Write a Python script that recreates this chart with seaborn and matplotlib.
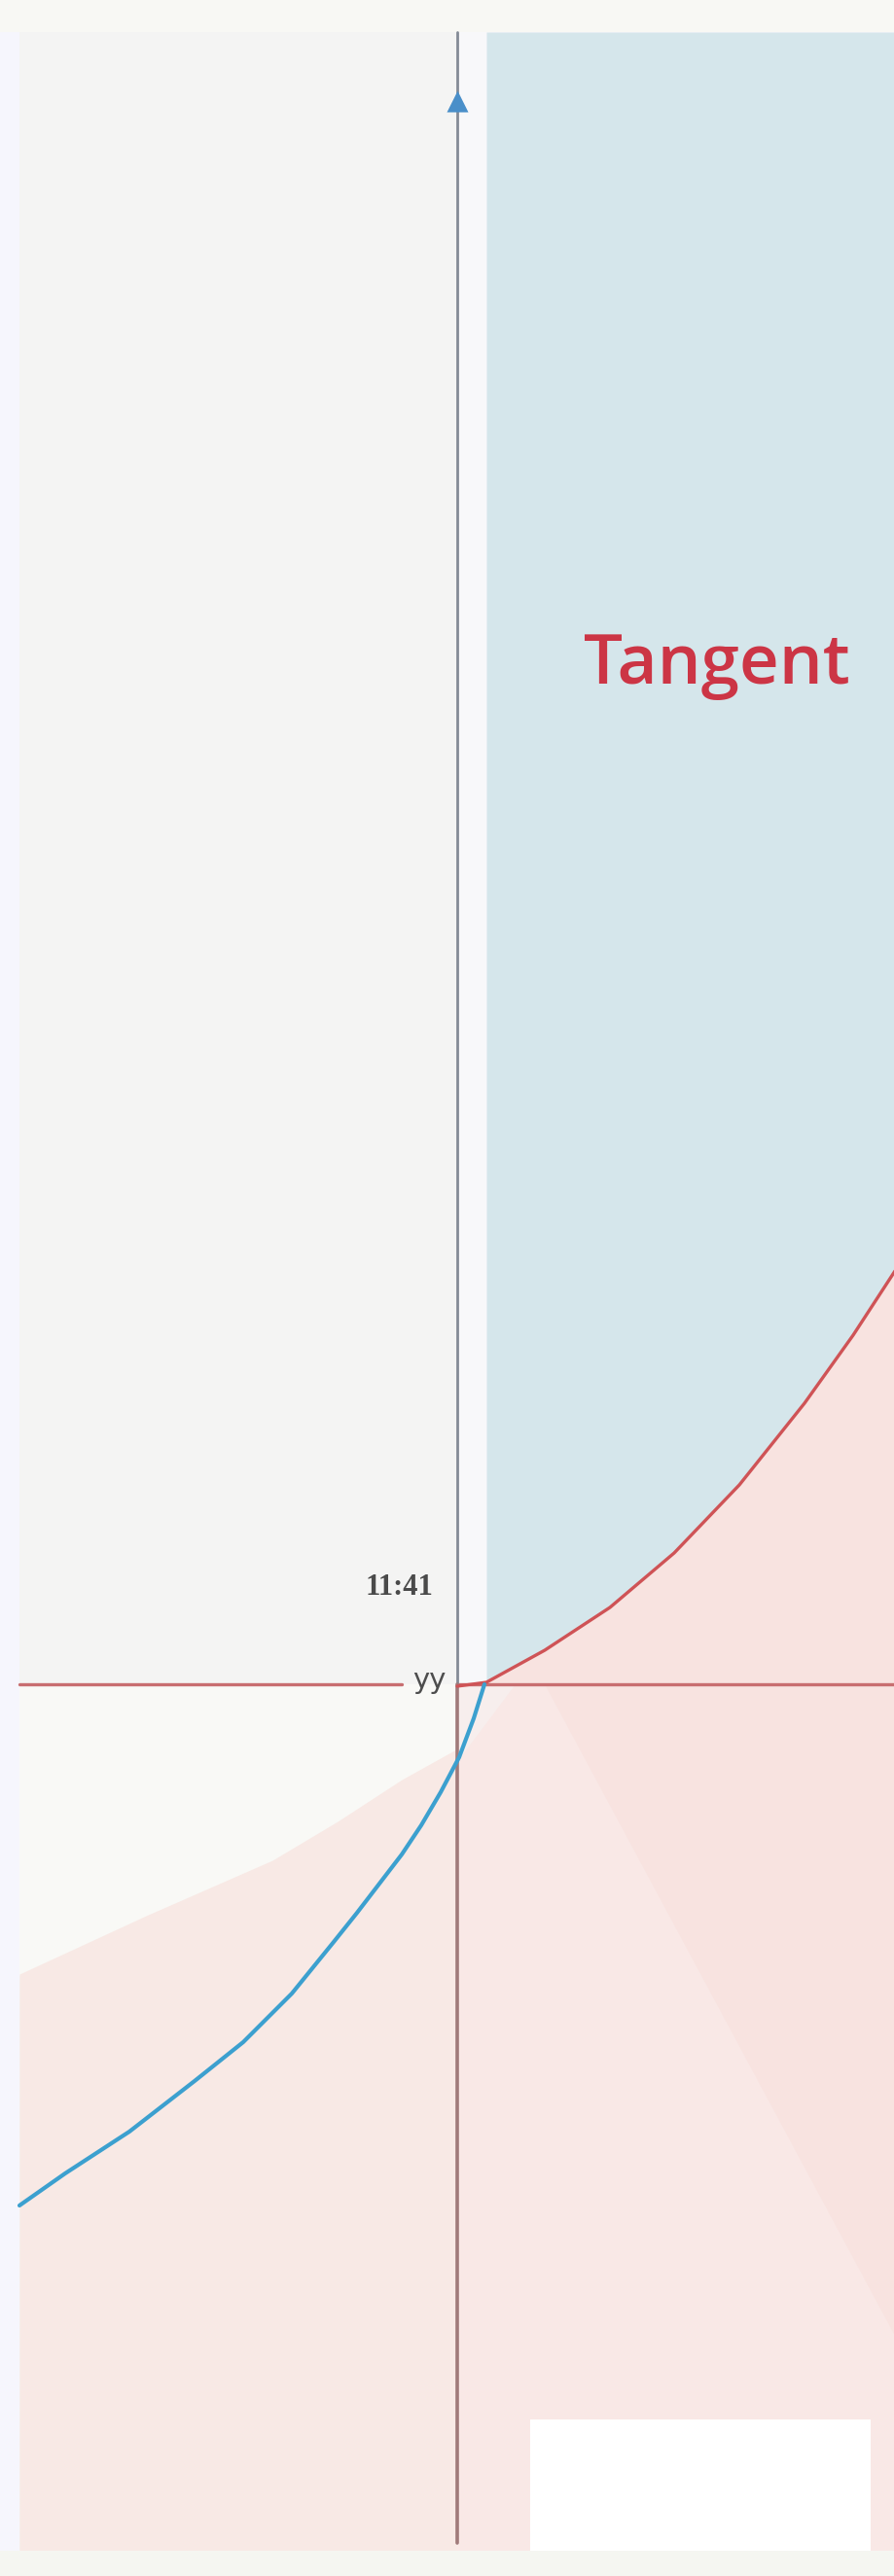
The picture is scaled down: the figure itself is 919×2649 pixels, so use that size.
import numpy as np
import matplotlib
matplotlib.use("Agg")
import matplotlib.pyplot as plt
import seaborn as sns

# curve samples (axis units, origin where the lines cross)
red_x = [0.00, 0.30, 0.90, 1.57, 2.23, 2.90, 3.57, 4.07, 4.50]
red_y = [-0.02, 0.02, 0.35, 0.79, 1.35, 2.05, 2.89, 3.59, 4.25]

blue_x = [0.28, 0.17, 0.02, -0.17, -0.37, -0.57, -0.80, -1.03, -1.27,
          -1.70, -2.20, -2.70, -3.37, -4.03, -4.50]
blue_y = [0.00, -0.35, -0.75, -1.11, -1.45, -1.75, -2.05, -2.35, -2.65,
          -3.18, -3.68, -4.08, -4.60, -5.03, -5.36]

pink_edge_x = [-4.50, -3.20, -1.90, -1.23, -0.57, -0.03, 0.00]
pink_edge_y = [-2.98, -2.38, -1.81, -1.41, -0.98, -0.68, -0.66]

labels = {"title": "Tangent", "tick": "11:41", "axis": "yy"}

sns.set_theme(style="white")
plt.rcParams["font.family"] = ["Open Sans", "DejaVu Sans"]

fig = plt.figure(figsize=(9.2, 26.49), dpi=100)
ax = fig.add_axes([0, 0, 1, 1])
ax.set_xlim(-4.70, 4.50)
ax.set_ylim(-9.17, 17.32)
ax.axis("off")
fig.patch.set_facecolor("#f6f6fd")

# background panels
ax.fill_between([-4.50, 0.0], -8.91, 16.99, color="#f4f4f3", lw=0, zorder=0)
ax.fill_between([-4.70, 4.50], 16.99, 17.32, color="#f8f8f4", lw=0, zorder=0)
ax.fill_between([-4.50, 0.0], -3.0, 0.0, color="#f9f9f6", lw=0, zorder=0)
ax.fill_between([0.0, 0.33], 0.0, 16.99, color="#f8f8fa", lw=0, zorder=0)

# shaded regions around the curves
rx = np.array(red_x)
ry = np.array(red_y)
mask = rx >= 0.30
ax.fill_between(rx[mask], ry[mask], 16.99, color="#d5e6eb", lw=0, zorder=1)
ax.fill_between(pink_edge_x, pink_edge_y, -8.91, color="#f8e9e5", lw=0, zorder=1)
ax.fill_between(rx, np.maximum(ry, 0), -8.91, color="#f8e3e0", lw=0, zorder=1)
# slightly lighter lower-left half of the right pink area
ax.fill([0.0, 0.9, 4.5, 4.5, 0.0], [0.0, 0.0, -6.7, -8.91, -8.91],
        color="#f9e8e6", lw=0, zorder=1)
ax.fill([0.0, 0.6, 0.0], [0.0, 0.0, -0.8], color="#f7eeed", lw=0, zorder=1)

ax.fill_between([-4.70, 4.50], -9.17, -8.91, color="#f5f6f1", lw=0, zorder=2)

# axes lines
ax.plot([-4.50, -0.57], [0, 0], color="#c86e70", lw=2.4, zorder=3)
ax.plot([0.0, 4.50], [0, 0], color="#c86e70", lw=2.4, zorder=3)
ax.plot([0, 0], [0, 16.99], color="#848b96", lw=2.0, zorder=3)
ax.plot([0, 0], [-8.83, 0], color="#a07a7a", lw=2.6, zorder=3)
ax.plot([0], [16.28], marker="^", ms=16, color="#4a8fc9", mec="none", zorder=4)

# curves
sns.lineplot(x=red_x, y=red_y, sort=False, ax=ax, color="#cf5356", lw=2.4,
             zorder=5, solid_joinstyle="round")
sns.lineplot(x=blue_x, y=blue_y, sort=False, ax=ax, color="#3ca0cf", lw=3.0,
             zorder=5, solid_joinstyle="round")

# white box at the bottom
ax.fill_between([0.75, 4.25], -8.91, -7.56, color="white", lw=0, zorder=6)

# text
ax.text(2.67, 10.29, labels["title"], color="#cc3545", fontsize=51,
        fontweight="semibold", ha="center", va="baseline", zorder=7)
ax.text(-0.60, 1.00, labels["tick"], color="#4a4a4a", fontsize=22,
        family="Liberation Serif", fontweight="bold",
        ha="center", va="center", zorder=7)
ax.text(-0.29, 0.04, labels["axis"], color="#4d4d4d", fontsize=21,
        family="DejaVu Sans", ha="center", va="center", zorder=7)

fig.savefig("out.png", dpi=100)
